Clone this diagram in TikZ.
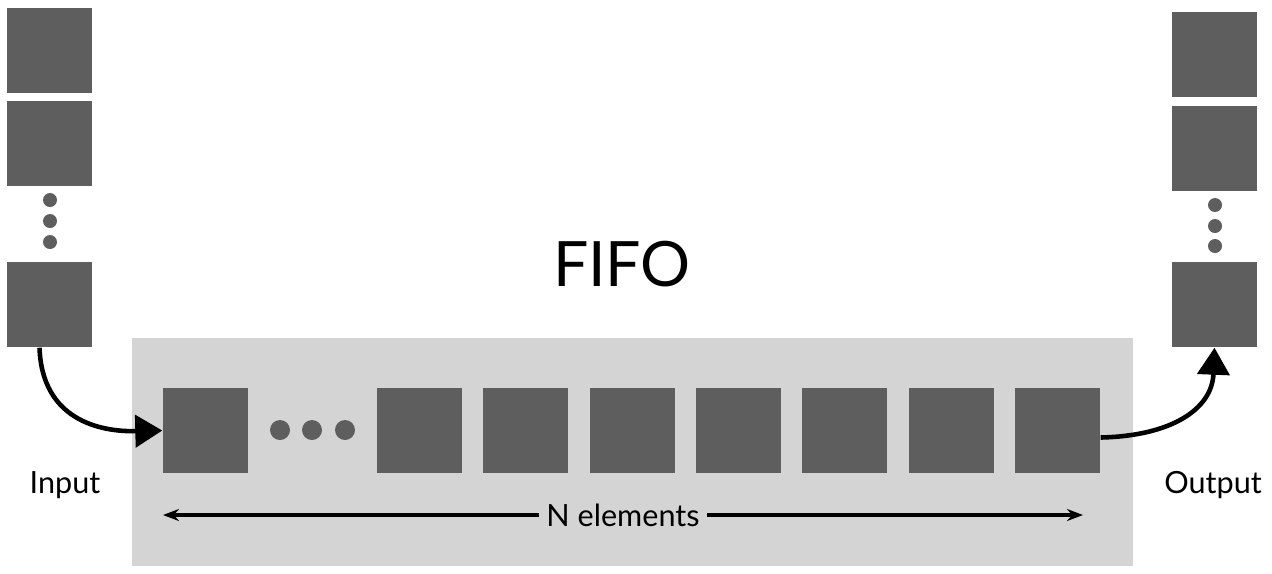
\documentclass[tikz,border=0pt]{standalone}
\usepackage{fontspec}
\setmainfont{Lato}
\usetikzlibrary{arrows.meta}

\definecolor{boxgray}{HTML}{5E5E5E}
\definecolor{fifogray}{HTML}{D4D4D4}

\begin{document}
\begin{tikzpicture}[x=0.1mm, y=-0.1mm,
    elem/.style={fill=boxgray, minimum size=8.5mm, inner sep=0pt},
    flow/.style={line width=1.3pt, -{Triangle[length=2.7mm, width=3.2mm]}},
    lbl/.style={font=\fontsize{8.7}{10.5}\selectfont}]

    \useasboundingbox (0,0) rectangle (1272,573);

    % Queue background
    \fill[fifogray] (132,338) rectangle (1133,566);

    % Input stack
    \node[elem] (in1) at (49.5,50) {};
    \node[elem] (in2) at (49.5,143) {};
    \node[elem] (in3) at (49.5,304.5) {};
    \foreach \y in {200,221,242}
        \fill[boxgray] (50,\y) circle (0.7mm);

    % Output stack
    \node[elem] (out1) at (1214.5,54.5) {};
    \node[elem] (out2) at (1214.5,148) {};
    \node[elem] (out3) at (1214.5,304.5) {};
    \foreach \y in {205,226,246}
        \fill[boxgray] (1215,\y) circle (0.7mm);

    % Queue elements
    \node[elem] (q0) at (205.5,430.5) {};
    \foreach \x in {280,312,345}
        \fill[boxgray] (\x,430) circle (1mm);
    \foreach \i in {1,...,7}
        \node[elem] (q\i) at ({419.5+106.33*(\i-1)},430.5) {};

    % Labels
    \node[font=\fontsize{17.8}{20}\selectfont] (fifo) at (622,264) {FIFO};
    \node[lbl] (input) at (65,485) {Input};
    \node[lbl] (output) at (1213,485) {Output};

    % Flow arrows
    \draw[flow] ([xshift=-1mm]in3.south) .. controls (42,420) and (100,432) .. (q0.west);
    \draw[flow] ([yshift=-0.7mm]q7.east) .. controls (1170,436) and (1212,410) .. (out3.south);

    % Size arrow
    \coordinate (nl) at (163,515);
    \coordinate (nr) at (1083,515);
    \draw[line width=0.9pt, {Stealth[length=1.6mm]}-{Stealth[length=1.6mm]}] (nl) -- (nr)
        node[midway, lbl, fill=fifogray, inner sep=2pt] (nlabel) {N elements};
\end{tikzpicture}
\end{document}
